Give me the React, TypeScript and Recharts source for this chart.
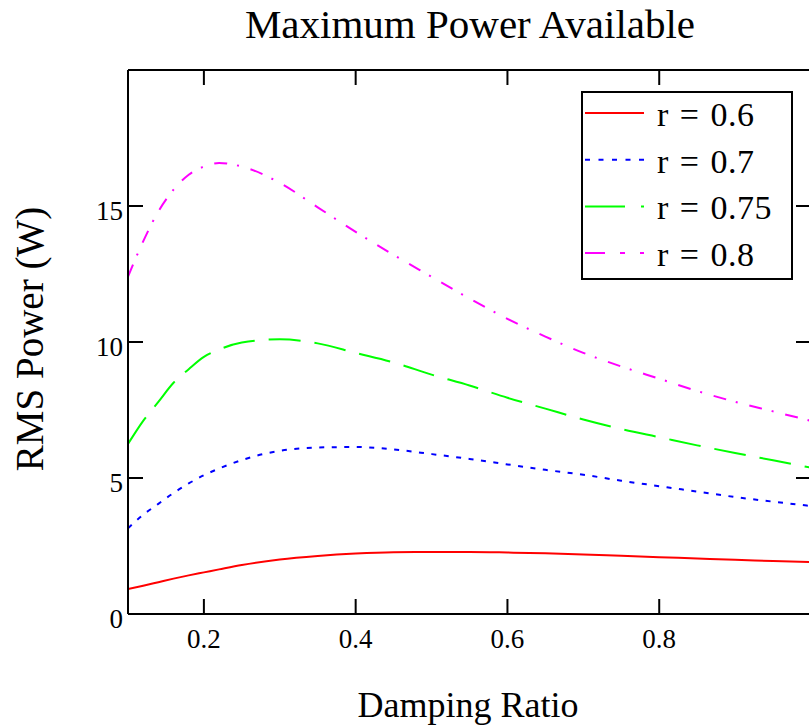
import React from 'react';
import { LineChart, Line, XAxis, YAxis, Legend } from 'recharts';

const SERIF = '"Liberation Serif", "Times New Roman", serif';

// damping ratio samples (x) and RMS power (W) per frequency ratio r
const damping = [0.1, 0.12, 0.14, 0.16, 0.18, 0.2, 0.22, 0.25, 0.3, 0.35, 0.4, 0.45, 0.5, 0.55, 0.6, 0.65, 0.7, 0.75, 0.8, 0.85, 0.9, 0.95, 1.0];
const powerR060 = [0.92, 1.04, 1.17, 1.3, 1.42, 1.53, 1.64, 1.8, 2.0, 2.13, 2.22, 2.27, 2.28, 2.28, 2.26, 2.23, 2.19, 2.14, 2.09, 2.04, 1.99, 1.95, 1.91];
const powerR070 = [3.15, 3.65, 4.05, 4.45, 4.8, 5.1, 5.35, 5.66, 6.0, 6.12, 6.14, 6.05, 5.88, 5.7, 5.5, 5.3, 5.12, 4.9, 4.7, 4.5, 4.3, 4.13, 3.97];
const powerR075 = [6.25, 7.1, 7.8, 8.5, 9.0, 9.45, 9.72, 9.98, 10.1, 9.95, 9.6, 9.25, 8.8, 8.4, 7.95, 7.55, 7.15, 6.8, 6.5, 6.2, 5.92, 5.65, 5.38];
const powerR080 = [12.4, 13.7, 14.8, 15.6, 16.15, 16.45, 16.58, 16.45, 15.85, 14.95, 14.05, 13.2, 12.4, 11.6, 10.85, 10.2, 9.6, 9.1, 8.65, 8.2, 7.8, 7.45, 7.1];

const xTicks = [0.2, 0.4, 0.6, 0.8];
const yTicks = [0, 5, 10, 15];
const yTicksRight = [5, 10, 15];

const series = [
  { key: 'r060', name: 'r = 0.6', color: '#ff0000', dash: undefined, legendDash: undefined },
  { key: 'r070', name: 'r = 0.7', color: '#0000ff', dash: '5 7.5', legendDash: '5 8.5' },
  { key: 'r075', name: 'r = 0.75', color: '#00ff00', dash: '32 14', legendDash: '40 16' },
  { key: 'r080', name: 'r = 0.8', color: '#ff00ff', dash: '13 10 2 12', legendDash: '20 15 5 15' },
];

const data = damping.map((zeta, i) => ({
  zeta,
  r060: powerR060[i],
  r070: powerR070[i],
  r075: powerR075[i],
  r080: powerR080[i],
}));

const BottomTick = ({ x, y, payload }: any) => (
  <g>
    <line x1={x} x2={x} y1={y} y2={y - 15} stroke="#000" strokeWidth={2} />
    <text x={x} y={y + 34} textAnchor="middle" fontSize={27} fontFamily={SERIF} fill="#000">
      {payload.value}
    </text>
  </g>
);

const TopTick = ({ x, y }: any) => <line x1={x} x2={x} y1={y} y2={y + 15} stroke="#000" strokeWidth={2} />;

const LeftTick = ({ x, y, payload }: any) => (
  <g>
    <line x1={x} x2={x + 15} y1={y} y2={y} stroke="#000" strokeWidth={2} />
    <text x={x - 5} y={y + 14} textAnchor="end" fontSize={27} fontFamily={SERIF} fill="#000">
      {payload.value}
    </text>
  </g>
);

const RightTick = ({ x, y }: any) => <line x1={x} x2={x - 15} y1={y} y2={y} stroke="#000" strokeWidth={2} />;

const LegendBox = () => (
  <svg width={212} height={189} style={{ display: 'block' }}>
    <rect x={1} y={1} width={210} height={187} fill="#fff" stroke="#000" strokeWidth={2} />
    {series.map((s, i) => (
      <g key={s.key}>
        <line
          x1={4}
          x2={63}
          y1={22 + i * 46.7}
          y2={22 + i * 46.7}
          stroke={s.color}
          strokeWidth={2}
          strokeDasharray={s.legendDash}
        />
        <text x={76} y={35 + i * 46.7} fontSize={34} fontFamily={SERIF} letterSpacing={0.5} wordSpacing={2} fill="#000">
          {s.name}
        </text>
      </g>
    ))}
  </svg>
);

export default function App() {
  return (
    <div style={{ position: 'absolute', left: 0, top: 0, width: 809, height: 728, overflow: 'hidden', background: '#fff' }}>
      <LineChart width={830} height={728} data={data} margin={{ top: 60, right: 9, bottom: 54, left: 68 }}>
        <XAxis
          xAxisId="bottom"
          type="number"
          dataKey="zeta"
          domain={[0.1, 1]}
          ticks={xTicks}
          interval={0}
          allowDataOverflow
          height={60}
          tickSize={0}
          tickMargin={0}
          tickLine={false}
          axisLine={{ stroke: '#000', strokeWidth: 2 }}
          tick={(p: any) => <BottomTick {...p} />}
        />
        <XAxis
          xAxisId="top"
          orientation="top"
          type="number"
          dataKey="zeta"
          domain={[0.1, 1]}
          ticks={xTicks}
          interval={0}
          allowDataOverflow
          height={10}
          tickSize={0}
          tickMargin={0}
          tickLine={false}
          axisLine={{ stroke: '#000', strokeWidth: 2 }}
          tick={(p: any) => <TopTick {...p} />}
        />
        <YAxis
          yAxisId="left"
          type="number"
          domain={[0, 20]}
          ticks={yTicks}
          interval={0}
          allowDataOverflow
          width={60}
          tickSize={0}
          tickMargin={0}
          tickLine={false}
          axisLine={{ stroke: '#000', strokeWidth: 2 }}
          tick={(p: any) => <LeftTick {...p} />}
        />
        <YAxis
          yAxisId="right"
          orientation="right"
          type="number"
          domain={[0, 20]}
          ticks={yTicksRight}
          interval={0}
          allowDataOverflow
          width={10}
          tickSize={0}
          tickMargin={0}
          tickLine={false}
          axisLine={{ stroke: '#000', strokeWidth: 2 }}
          tick={(p: any) => <RightTick {...p} />}
        />
        <Legend
          layout="vertical"
          align="center"
          verticalAlign="middle"
          wrapperStyle={{ position: 'absolute', left: 581, top: 91, width: 212, height: 189 }}
          content={() => <LegendBox />}
        />
        {series.map((s) => (
          <Line
            key={s.key}
            xAxisId="bottom"
            yAxisId="left"
            type="monotone"
            dataKey={s.key}
            name={s.name}
            stroke={s.color}
            strokeWidth={2}
            strokeDasharray={s.dash}
            dot={false}
            activeDot={false}
            isAnimationActive={false}
          />
        ))}
      </LineChart>
      <svg width={809} height={728} style={{ position: 'absolute', left: 0, top: 0, pointerEvents: 'none' }}>
        <text x={470} y={38} textAnchor="middle" fontSize={41} fontFamily={SERIF} fill="#000">
          Maximum Power Available
        </text>
        <text x={43} y={339} transform="rotate(-90 43 339)" textAnchor="middle" fontSize={39} fontFamily={SERIF} fill="#000">
          RMS Power (W)
        </text>
        <text x={468} y={717} textAnchor="middle" fontSize={36} fontFamily={SERIF} fill="#000">
          Damping Ratio
        </text>
      </svg>
    </div>
  );
}
